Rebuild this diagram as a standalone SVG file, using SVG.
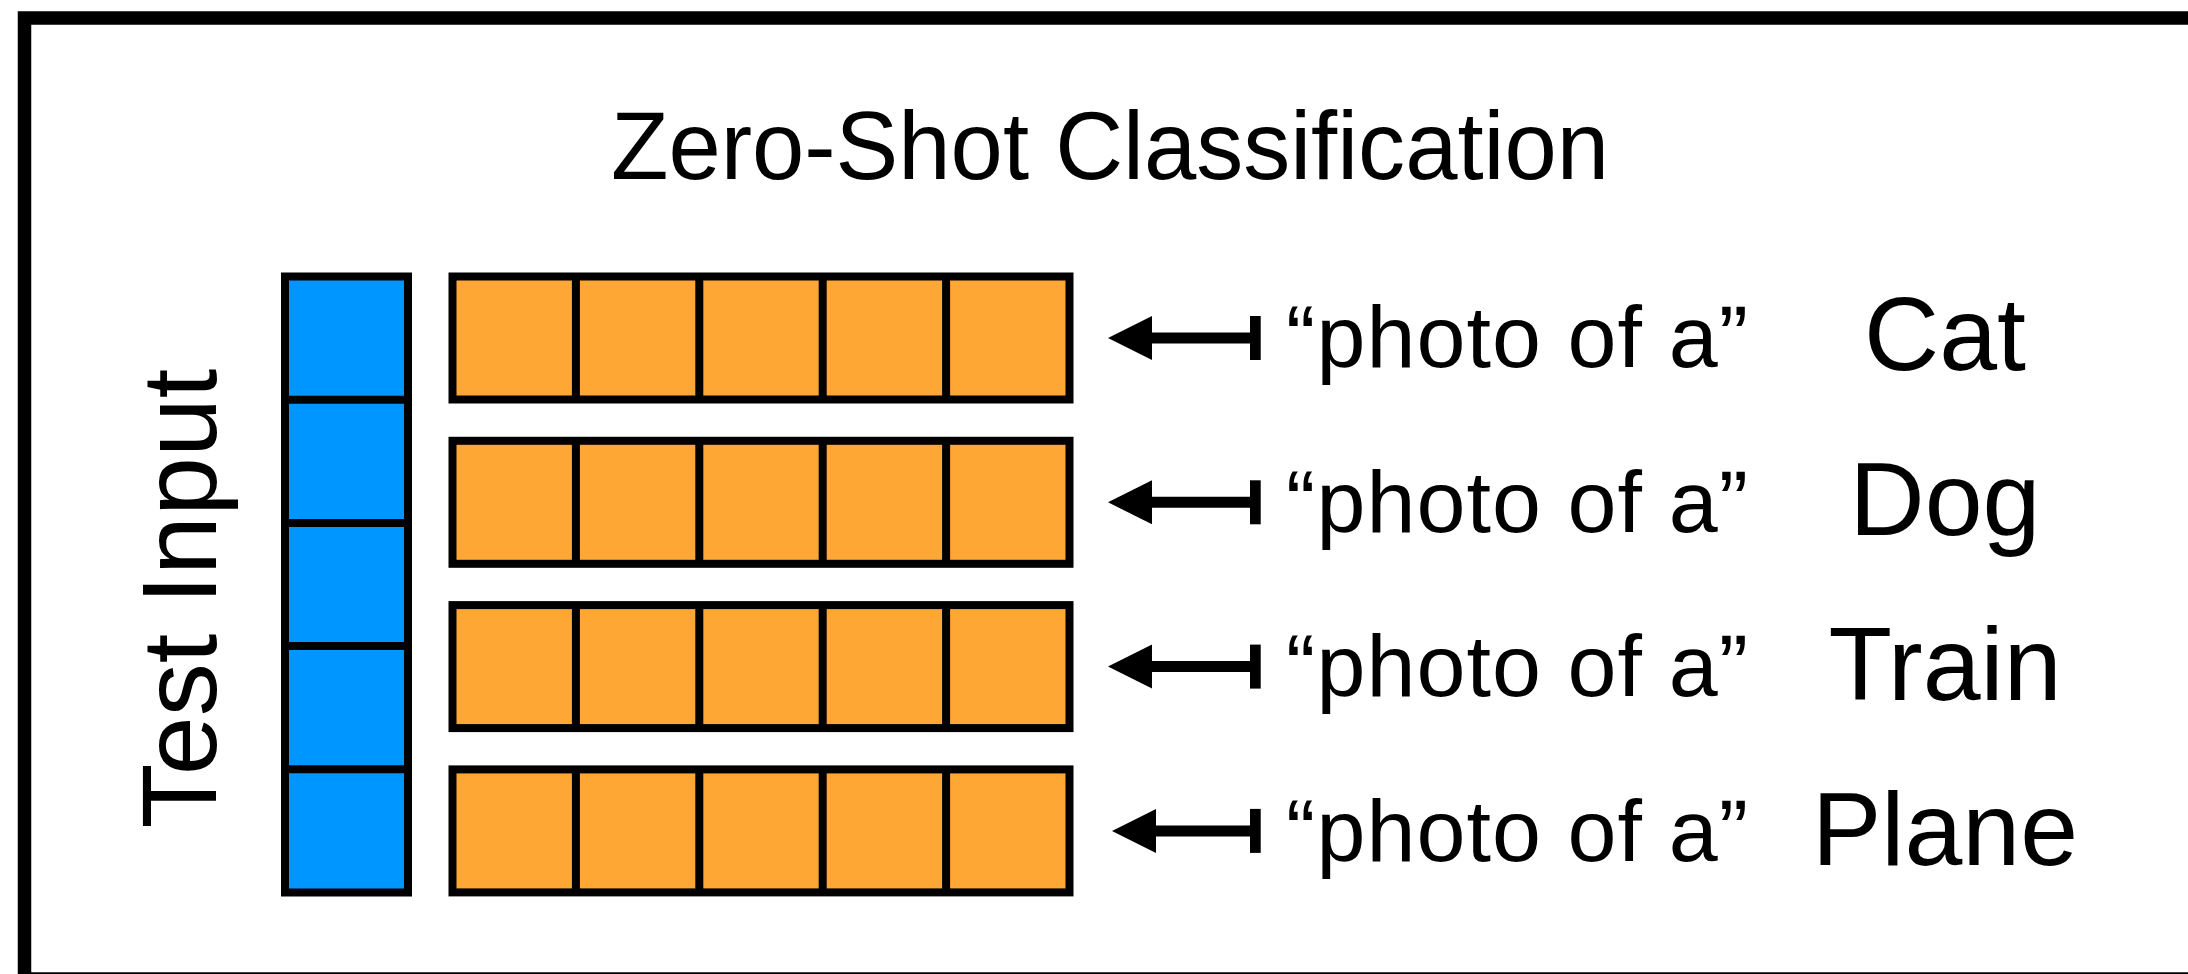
<svg xmlns="http://www.w3.org/2000/svg" width="2188" height="974" viewBox="0 0 2188 974">
<style>
.frame{fill:none;stroke:#000;stroke-width:13.5}
.blue{fill:#0096FF;stroke:#000;stroke-width:8}
.orange{fill:#FFA734;stroke:#000;stroke-width:8}
.div{stroke:#000;stroke-width:8}
.txt{font-family:"Liberation Sans",Arial,sans-serif;fill:#000}
.title{font-size:96px}
.prompt{font-size:88px}
.label{font-size:104px;text-anchor:middle}
.line{stroke:#000;stroke-width:11;fill:none}
.bar{fill:#000}
</style>
<defs>
<marker id="ah" markerUnits="userSpaceOnUse" markerWidth="46" markerHeight="46" refX="12" refY="22.5" orient="auto" viewBox="0 0 46 45">
<path d="M0,0.5 L44,22.5 L0,44.5 Z" fill="#000"/>
</marker>
</defs>
<rect id="frame" class="frame" x="24.5" y="18" width="2185" height="961"/>
<g id="title"><text class="txt title" x="611" y="179" textLength="998" lengthAdjust="spacingAndGlyphs">Zero-Shot Classification</text></g>
<g id="test-input-label"><text class="txt" font-size="106" text-anchor="middle" transform="translate(216,598.5) rotate(-90)">Test Input</text></g>
<g id="test-input">
<rect class="blue" x="285" y="276.5" width="123" height="616"/>
<line class="div" x1="285" y1="399.7" x2="408" y2="399.7"/>
<line class="div" x1="285" y1="522.9" x2="408" y2="522.9"/>
<line class="div" x1="285" y1="646.1" x2="408" y2="646.1"/>
<line class="div" x1="285" y1="769.3" x2="408" y2="769.3"/>
</g>
<g id="row-cat">
<rect class="orange" x="452.5" y="276.5" width="617" height="123"/>
<path class="div" d="M575.9,276.5V399.5M699.3,276.5V399.5M822.7,276.5V399.5M946.1,276.5V399.5"/>
</g>
<g id="row-dog">
<rect class="orange" x="452.5" y="440.8" width="617" height="123"/>
<path class="div" d="M575.9,440.8V563.8M699.3,440.8V563.8M822.7,440.8V563.8M946.1,440.8V563.8"/>
</g>
<g id="row-train">
<rect class="orange" x="452.5" y="605.1" width="617" height="123"/>
<path class="div" d="M575.9,605.1V728.1M699.3,605.1V728.1M822.7,605.1V728.1M946.1,605.1V728.1"/>
</g>
<g id="row-plane">
<rect class="orange" x="452.5" y="769.4" width="617" height="123"/>
<path class="div" d="M575.9,769.4V892.4M699.3,769.4V892.4M822.7,769.4V892.4M946.1,769.4V892.4"/>
</g>
<g id="prompt-cat"><text class="txt prompt" x="1286" y="367" textLength="462" lengthAdjust="spacing">“photo of a”</text><text class="txt label" x="1945" y="370">Cat</text></g>
<g id="prompt-dog"><text class="txt prompt" x="1286" y="531.5" textLength="462" lengthAdjust="spacing">“photo of a”</text><text class="txt label" x="1945" y="535">Dog</text></g>
<g id="prompt-train"><text class="txt prompt" x="1286" y="696" textLength="462" lengthAdjust="spacing">“photo of a”</text><text class="txt label" x="1945" y="700">Train</text></g>
<g id="prompt-plane"><text class="txt prompt" x="1286" y="860.5" textLength="462" lengthAdjust="spacing">“photo of a”</text><text class="txt label" x="1945" y="865">Plane</text></g>
<g id="connectors">
<line class="line" x1="1255" y1="338" x2="1140" y2="338" marker-end="url(#ah)"/>
<rect class="bar" x="1250" y="316" width="10.7" height="44"/>
<line class="line" x1="1255" y1="502.3" x2="1140" y2="502.3" marker-end="url(#ah)"/>
<rect class="bar" x="1250" y="480.3" width="10.7" height="44"/>
<line class="line" x1="1255" y1="666.6" x2="1140" y2="666.6" marker-end="url(#ah)"/>
<rect class="bar" x="1250" y="644.6" width="10.7" height="44"/>
<line class="line" x1="1255" y1="830.9" x2="1144" y2="830.9" marker-end="url(#ah)"/>
<rect class="bar" x="1250" y="808.9" width="10.7" height="44"/>
</g>
</svg>
